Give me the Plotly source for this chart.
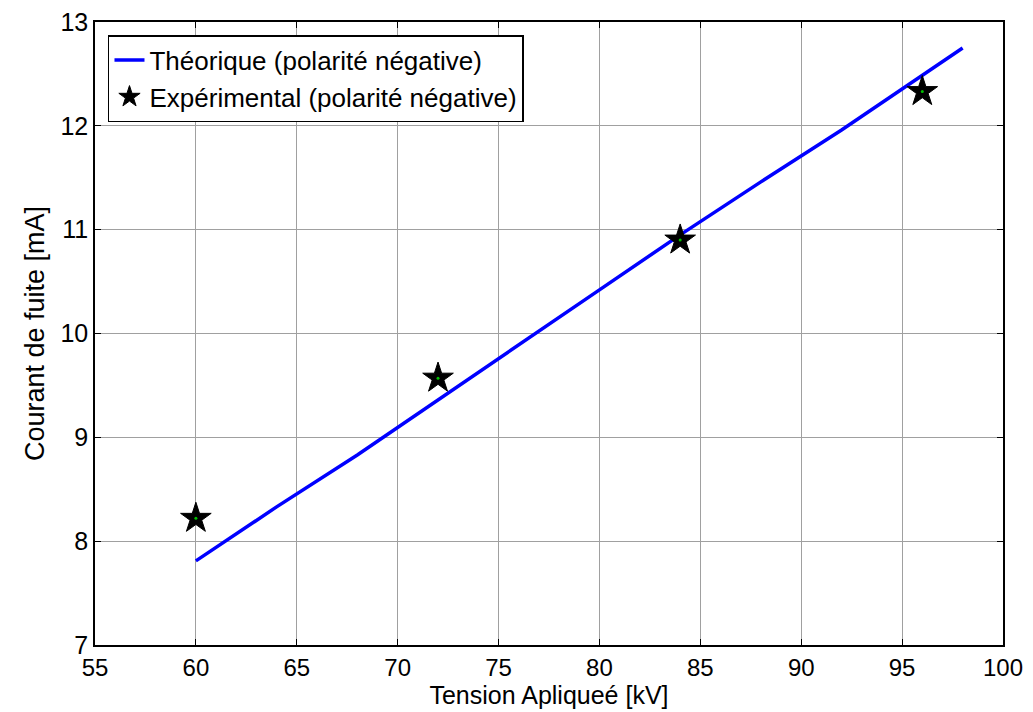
import plotly.graph_objects as go

theo_x = [60, 64, 68, 72, 76, 80, 84, 88, 92, 96, 98]
theo_y = [7.81, 8.33, 8.83, 9.36, 9.90, 10.42, 10.95, 11.46, 11.96, 12.48, 12.75]

exp_x = [60, 72, 84, 96]
exp_y = [8.22, 9.57, 10.90, 12.33]

x_ticks = [55, 60, 65, 70, 75, 80, 85, 90, 95, 100]
y_ticks = [7, 8, 9, 10, 11, 12, 13]

FONT = "Liberation Sans, Arial"

fig = go.Figure()
fig.add_trace(go.Scatter(
    x=theo_x, y=theo_y, mode="lines",
    line=dict(color="#0000ff", width=3.5),
    name="Théorique (polarité négative)"))
fig.add_trace(go.Scatter(
    x=exp_x, y=exp_y, mode="markers",
    marker=dict(symbol="star", size=23, color="black",
                line=dict(color="black", width=1)),
    name="Expérimental (polarité négative)"))
fig.add_trace(go.Scatter(
    x=exp_x, y=exp_y, mode="markers",
    marker=dict(symbol="circle", size=3, color="#00c000"),
    showlegend=False, hoverinfo="skip"))

axis_common = dict(
    showgrid=True, gridcolor="#a0a0a0", gridwidth=1,
    showline=True, linecolor="black", linewidth=1.5, mirror="ticks",
    ticks="inside", ticklen=6, tickcolor="black",
    zeroline=False, automargin=False, ticklabeloverflow="allow",
)

fig.update_layout(
    width=1033, height=712,
    margin=dict(l=87, r=38, t=14, b=75),
    paper_bgcolor="white", plot_bgcolor="white",
    font=dict(family=FONT, color="black"),
    xaxis=dict(range=[55, 100], tickvals=x_ticks,
               tickfont=dict(family=FONT, size=24, color="black"),
               title=dict(text="Tension Apliqueé [kV]", font=dict(size=25), standoff=0),
               **axis_common),
    yaxis=dict(range=[7, 13], tickvals=y_ticks,
               tickfont=dict(family=FONT, size=25, color="black"),
               title=dict(text="Courant de fuite [mA]", font=dict(size=27), standoff=8),
               **axis_common),
    legend=dict(x=0.0143, y=0.979, xanchor="left", yanchor="top",
                bordercolor="black", borderwidth=1.5, bgcolor="white",
                font=dict(family=FONT, size=26, color="black"),
                itemsizing="trace", tracegroupgap=0),
    showlegend=True,
)

fig.write_html("out.html")
